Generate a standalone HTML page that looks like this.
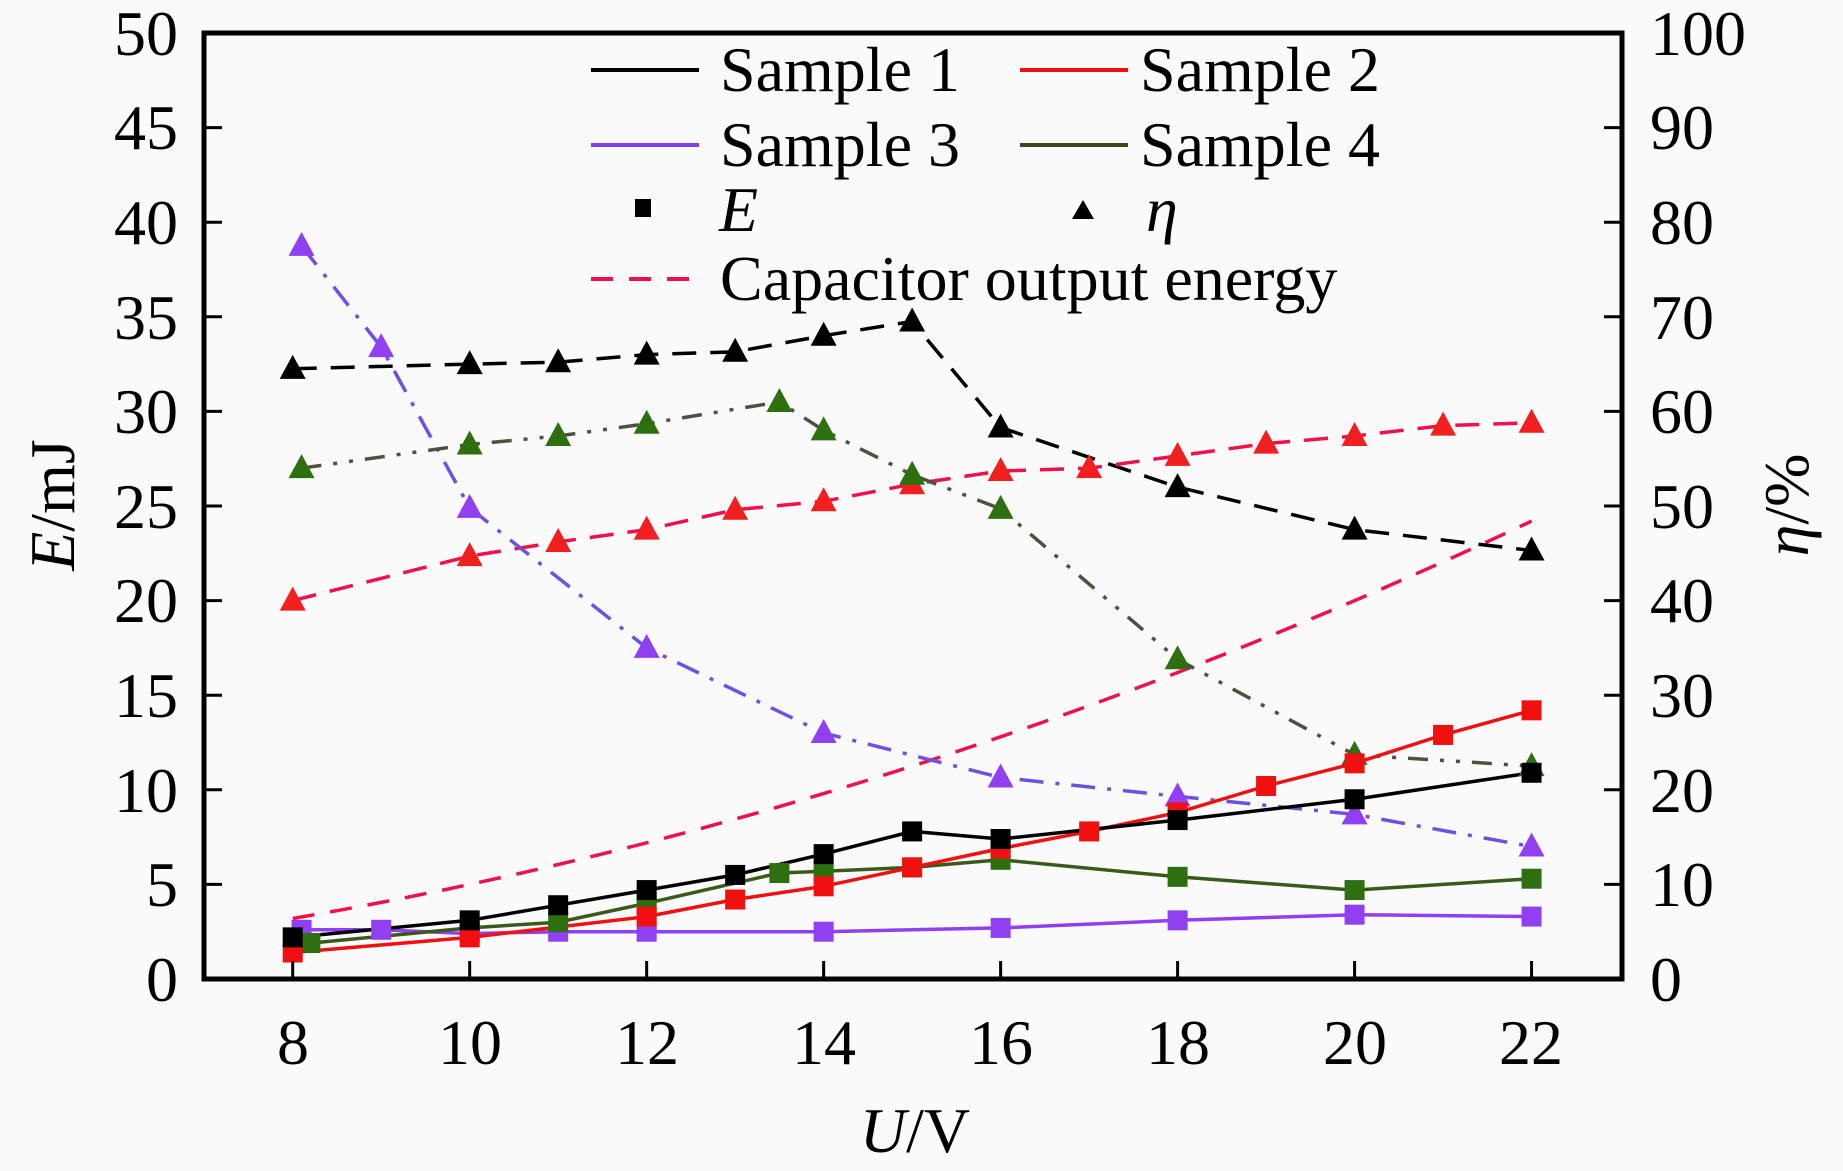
<!DOCTYPE html>
<html><head><meta charset="utf-8"><style>
html,body{margin:0;padding:0;background:#fafafa;}
svg{display:block;font-family:"Liberation Serif",serif;}
</style></head><body>
<svg id="s" width="1843" height="1171" viewBox="0 0 1843 1171" xmlns="http://www.w3.org/2000/svg">
<rect width="1843" height="1171" fill="#fafafa"/>
<g id="plot"></g>
<rect x="204" y="33" width="1418" height="946" fill="none" stroke="#000" stroke-width="5"/>
<g id="ticks" stroke="#000" stroke-width="3"></g>
<g font-size="64" fill="#000">
<g text-anchor="end">
<text x="178" y="1001">0</text><text x="178" y="906">5</text><text x="178" y="812">10</text><text x="178" y="717">15</text><text x="178" y="622">20</text><text x="178" y="528">25</text><text x="178" y="433">30</text><text x="178" y="339">35</text><text x="178" y="244">40</text><text x="178" y="149">45</text><text x="178" y="55">50</text>
</g>
<g text-anchor="start">
<text x="1650" y="1001">0</text><text x="1650" y="906">10</text><text x="1650" y="812">20</text><text x="1650" y="717">30</text><text x="1650" y="622">40</text><text x="1650" y="528">50</text><text x="1650" y="433">60</text><text x="1650" y="339">70</text><text x="1650" y="244">80</text><text x="1650" y="149">90</text><text x="1650" y="55">100</text>
</g>
<g text-anchor="middle">
<text x="293" y="1064">8</text><text x="470" y="1064">10</text><text x="647" y="1064">12</text><text x="824" y="1064">14</text><text x="1001" y="1064">16</text><text x="1178" y="1064">18</text><text x="1355" y="1064">20</text><text x="1531" y="1064">22</text>
</g>
<text x="915" y="1152" text-anchor="middle"><tspan font-style="italic">U</tspan>/V</text>
<text transform="translate(74,505) rotate(-90)" text-anchor="middle"><tspan font-style="italic">E</tspan>/mJ</text>
<text transform="translate(1808,505) rotate(-90)" text-anchor="middle"><tspan font-style="italic">η</tspan>/%</text>
<!-- legend -->
<line x1="591" y1="70" x2="699" y2="70" stroke="#000" stroke-width="4"/>
<text x="720" y="91">Sample 1</text>
<line x1="1020" y1="70" x2="1128" y2="70" stroke="#f01010" stroke-width="4"/>
<text x="1140" y="91">Sample 2</text>
<line x1="591" y1="145" x2="699" y2="145" stroke="#8040f0" stroke-width="4"/>
<text x="720" y="166">Sample 3</text>
<line x1="1020" y1="145" x2="1128" y2="145" stroke="#3a4a1a" stroke-width="4"/>
<text x="1140" y="166">Sample 4</text>
<rect x="635" y="199" width="16" height="18" fill="#000"/>
<text x="719" y="231" font-style="italic">E</text>
<polygon points="1083,200 1072,219 1094,219" fill="#000"/>
<text x="1146" y="231" font-style="italic">η</text>
<line x1="591" y1="279" x2="699" y2="279" stroke="#f0104a" stroke-width="4" stroke-dasharray="22,16"/>
<text x="720" y="300">Capacitor output energy</text>
</g>
</svg>
<script>
var X=function(u){return 292.7+(u-8)*88.49;};
var Y=function(e){return 979-e*18.92;};
var YE=function(p){return Y(p/2);};
var g=document.getElementById('plot'),t=document.getElementById('ticks'),h='';
function line(pts,f,col,dash,w){h+='<polyline fill="none" stroke="'+col+'" stroke-width="'+(w||3.5)+'" '+(dash?'stroke-dasharray="'+dash+'"':'')+' points="'+pts.map(function(p){return X(p[0]).toFixed(1)+','+f(p[1]).toFixed(1)}).join(' ')+'"/>';}
function sq(pts,col){pts.forEach(function(p){var x=X(p[0]),y=Y(p[1]);h+='<rect x="'+(x-10)+'" y="'+(y-10)+'" width="20" height="20" fill="'+col+'"/>';});}
function tri(pts,col){pts.forEach(function(p){var x=X(p[0]),y=YE(p[1]);h+='<polygon points="'+x+','+(y-14)+' '+(x-13)+','+(y+10)+' '+(x+13)+','+(y+10)+'" fill="'+col+'"/>';});}
var cap=[];for(var u=8;u<=22.01;u+=0.25)cap.push([u,0.05*u*u]);
line(cap,Y,'#f0104a','22,16',3.5);
var c1='#000',c2='#f01010',c3='#9040f0',c4='#2e7010';
var e1=[[8,2.2],[10,3.1],[11,3.9],[12,4.7],[13,5.5],[14,6.6],[15,7.8],[16,7.4],[18,8.4],[20,9.5],[22,10.9]];
var e2=[[8,1.4],[10,2.2],[12,3.3],[13,4.2],[14,4.9],[15,5.9],[16,6.9],[17,7.8],[18,8.8],[19,10.2],[20,11.4],[21,12.9],[22,14.2]];
var e3=[[8.1,2.6],[9,2.6],[10,2.4],[11,2.5],[12,2.5],[14,2.5],[16,2.7],[18,3.1],[20,3.4],[22,3.3]];
var e4=[[8.2,1.9],[10,2.7],[11,3.0],[12,4.0],[13.5,5.6],[14,5.7],[15,5.9],[16,6.3],[18,5.4],[20,4.7],[22,5.3]];
var n1=[[8,64.5],[10,65],[11,65.2],[12,66],[13,66.3],[14,68],[15,69.5],[16,58.3],[18,52],[20,47.5],[22,45.3]];
var n2=[[8,40],[10,44.7],[11,46.2],[12,47.5],[13,49.6],[14,50.5],[15,52.3],[16,53.7],[17,54],[18,55.3],[19,56.6],[20,57.4],[21,58.5],[22,58.8]];
var n3=[[8.1,77.5],[9,66.8],[10,49.8],[12,35],[14,26],[16,21.3],[18,19.3],[20,17.4],[22,14]];
var n4=[[8.1,54],[10,56.5],[11,57.4],[12,58.7],[13.5,61],[14,58],[15,53.3],[16,49.7],[18,33.8],[20,23.7],[22,22.5]];
line(n1,YE,c1,'24,14');line(n2,YE,'#f0104a','24,14');line(n3,YE,'#7050e0','24,12,4,12');line(n4,YE,'#505040','20,12,4,12,4,12');
line(e3,Y,c3);line(e4,Y,'#3a5a1a');line(e2,Y,c2);line(e1,Y,c1);
tri(n1,c1);tri(n2,'#f02020');tri(n3,c3);tri(n4,c4);
sq(e3,c3);sq(e4,c4);sq(e2,c2);sq(e1,c1);
g.innerHTML=h;
var th='';
for(var i=1;i<10;i++){var y=979-i*94.6;th+='<line x1="204" y1="'+y+'" x2="222" y2="'+y+'"/><line x1="1604" y1="'+y+'" x2="1622" y2="'+y+'"/>';}
for(var u=8;u<=22;u+=2){var x=X(u);th+='<line x1="'+x+'" y1="961" x2="'+x+'" y2="979"/>';}
t.innerHTML=th;
</script>
</body></html>
